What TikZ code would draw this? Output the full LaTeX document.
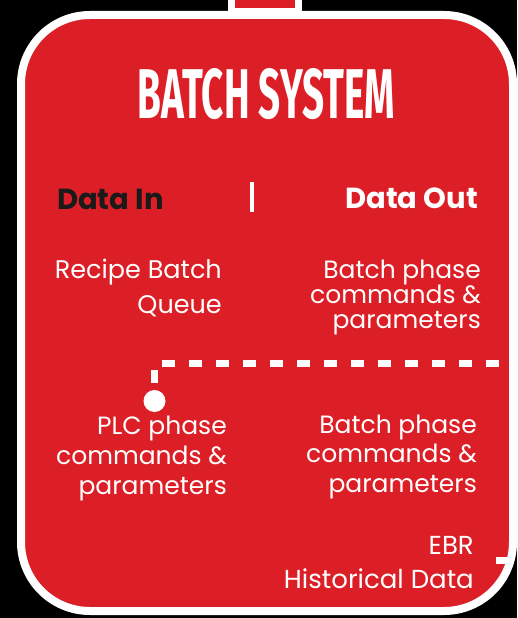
\documentclass[tikz,border=0pt]{standalone}
\usepackage{fontspec}
\usepackage{graphicx}
\setmainfont{Poppins}
\newfontfamily\titlefont{Fira Sans}
\definecolor{bred}{HTML}{DC1F26}
\definecolor{dink}{HTML}{1A1A1A}
\begin{document}
\begin{tikzpicture}[x=1pt,y=-1pt,
  frame/.style={fill=bred, draw=white, line width=8pt, rounded corners=69pt},
  tabbox/.style={fill=bred, draw=white, line width=7pt},
  head/.style={font=\fontsize{29}{35}\selectfont\bfseries, inner sep=0pt},
  body/.style={text=white, align=right, inner sep=0pt, anchor=base east},
  link/.style={draw=white, line width=7pt, dash pattern=on 13pt off 14pt, dash phase=20pt},
  dotnode/.style={circle, fill=white, minimum size=22pt, inner sep=0pt}]
\fill[black] (0,0) rectangle (517,618);
\useasboundingbox (0,0) rectangle (517,618);
% top tab and frame
\draw[tabbox] (231.5,-5) rectangle (298.5,11.5);
\draw[frame] (21,15) rectangle (513,611);
\fill[white] (496,557) rectangle (512,564);
% title
\node[anchor=base, inner sep=0pt, text=white] (title) at (266.5,118)
  {\resizebox{257pt}{50pt}{\titlefont\bfseries BATCH SYSTEM}};
% headers
\node[head, text=dink, anchor=base west] (datain) at (57,209) {Data In};
\node[head, text=white, anchor=base east] (dataout) at (478,208) {Data Out};
\draw[white, line width=4pt] (252,182) -- (252,212);
% texts (anchored at the baseline of the last line)
\node[body, font=\fontsize{25.5}{35}\selectfont] (recipe) at (222,313) {Recipe Batch\\Queue};
\node[body, font=\fontsize{25}{25}\selectfont] (outA) at (481,328) {Batch phase\\commands \&\\parameters};
\node[body, font=\fontsize{25}{30}\selectfont] (plc) at (227,494) {PLC phase\\commands \&\\parameters};
\node[body, font=\fontsize{25}{29.5}\selectfont] (outB) at (477,492) {Batch phase\\commands \&\\parameters};
\node[body, font=\fontsize{26}{34}\selectfont] (ebr) at (474,588) {EBR\\Historical Data};
% connector
\node[dotnode] (dot) at (154.5,401) {};
\coordinate (exit) at (517,363);
\draw[link] (dot.north) |- (exit);
\end{tikzpicture}
\end{document}
